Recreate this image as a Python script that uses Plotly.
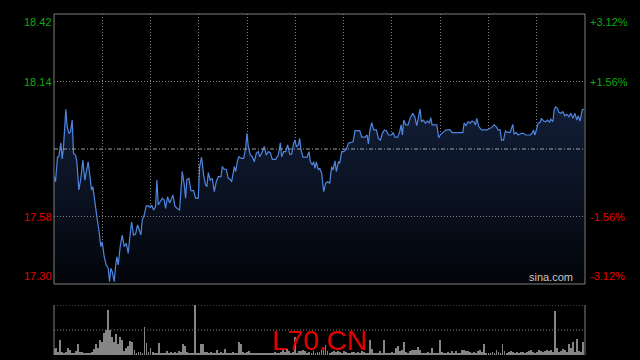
import plotly.graph_objects as go

# ---------------- data ----------------
minutes = [
    0.0, 0.75, 1.74, 2.40, 3.40, 4.06, 4.73, 5.39, 5.89, 6.55, 7.38, 8.21, 9.04, 9.70, 10.70, 11.36,
    12.35, 13.35, 14.34, 15.34, 16.33, 17.00, 17.99, 18.66, 19.32, 20.31, 21.31, 22.30, 23.30, 23.96,
    24.96, 25.96, 26.95, 27.61, 28.27, 28.94, 29.94, 30.60, 31.26, 31.93, 32.92, 33.92, 34.91, 35.91,
    36.90, 37.56, 38.56, 39.55, 40.55, 41.54, 42.54, 43.20, 43.87, 44.86, 45.86, 46.85, 47.85, 48.51,
    49.50, 50.50, 51.16, 51.83, 52.82, 53.82, 54.81, 55.47, 56.47, 57.46, 58.12, 59.12, 60.11, 61.11,
    62.44, 63.10, 63.77, 64.76, 65.42, 66.08, 67.08, 68.07, 69.40, 70.40, 71.73, 72.39, 73.38, 74.38,
    75.37, 76.03, 76.70, 77.70, 78.69, 79.69, 80.68, 81.68, 83.00, 83.67, 84.66, 85.66, 86.65, 87.65,
    88.31,
    89.64, 90.30, 91.29, 91.96, 93.28, 94.28, 95.27, 95.94, 96.60, 97.60, 98.59, 99.59, 100.58, 101.58,
    102.24, 103.23, 104.56, 105.56, 106.55, 107.55, 108.54, 110.20, 111.53, 112.52, 113.18, 114.18,
    115.17, 116.17, 117.16, 118.16, 119.15, 119.82, 120.48, 121.48, 122.14, 122.80, 123.80, 125.79,
    126.78, 127.45, 128.44, 129.10, 129.77, 130.43, 131.43, 132.09, 133.08, 134.08, 135.07, 136.07,
    137.06, 138.06, 138.72, 139.72, 140.38, 141.38, 142.04, 143.03, 144.03, 145.36, 146.35, 147.35,
    148.67, 149.67, 152.00, 152.99, 154.64, 155.64, 156.30, 156.97, 157.96, 158.96, 160.28, 161.28,
    162.27, 163.27, 164.26, 165.26, 166.25, 167.91, 168.57, 169.57, 170.90, 171.89, 172.55, 173.22,
    173.88, 174.88,
    176.03, 177.03, 178.36, 179.35, 180.35, 181.01, 182.00, 182.67, 183.67, 184.66, 185.66, 186.65,
    187.31, 187.98, 190.30, 191.29, 192.29, 193.95, 194.94, 196.93, 197.93, 203.23, 203.90, 204.89,
    205.89, 206.88, 207.88, 208.87, 209.54, 210.20, 211.19, 212.52, 215.51, 216.50, 217.50, 218.82,
    219.82, 220.81, 221.81, 222.47, 223.47, 224.46, 225.46, 226.78, 227.45, 228.11, 228.77, 229.77,
    230.76, 232.42, 233.42, 234.41, 236.73, 237.73, 238.39, 239.05, 240.05, 240.71, 241.71, 242.37,
    243.37, 244.36, 245.36, 246.35, 247.01, 248.01, 248.67, 249.34, 250.33, 250.99, 251.99, 252.99,
    253.98, 254.98, 255.97, 256.97, 257.96, 258.96, 259.95, 260.61, 261.61, 262.60, 263.60,
]

price = [
    17.745, 17.724, 17.827, 17.828, 17.886, 17.819, 17.870, 17.939, 18.025, 17.953, 17.925, 17.932,
    17.980, 17.842, 17.835, 17.807, 17.690, 17.738, 17.814, 17.731, 17.787, 17.807, 17.738, 17.690,
    17.704, 17.635, 17.579, 17.524, 17.455, 17.475, 17.413, 17.379, 17.365, 17.310, 17.365, 17.351,
    17.310, 17.372, 17.413, 17.379, 17.455, 17.503, 17.455, 17.469, 17.427, 17.483, 17.558, 17.503,
    17.507, 17.545, 17.517, 17.503, 17.565, 17.586, 17.624, 17.624, 17.618, 17.628, 17.607, 17.621,
    17.731, 17.628, 17.641, 17.656, 17.648, 17.614, 17.662, 17.637, 17.648, 17.669, 17.624, 17.614,
    17.607, 17.690, 17.766, 17.711, 17.656, 17.734, 17.738, 17.687, 17.687, 17.656, 17.656, 17.787,
    17.826, 17.752, 17.711, 17.704, 17.762, 17.731, 17.738, 17.683, 17.724, 17.745, 17.745, 17.787,
    17.776, 17.776, 17.738, 17.734, 17.724,
    17.787, 17.766, 17.814, 17.828, 17.821, 17.821, 17.863, 17.925, 17.870, 17.835, 17.828, 17.807,
    17.842, 17.849, 17.828, 17.842, 17.870, 17.835, 17.849, 17.845, 17.817, 17.817, 17.835, 17.886,
    17.828, 17.849, 17.849, 17.877, 17.839, 17.839, 17.884, 17.897, 17.870, 17.877, 17.904, 17.856,
    17.826, 17.826, 17.849, 17.807, 17.794, 17.807, 17.780, 17.807, 17.773, 17.780, 17.759, 17.683,
    17.718, 17.724, 17.718, 17.787, 17.773, 17.811, 17.766, 17.807, 17.801, 17.849, 17.849, 17.859,
    17.884, 17.888, 17.890, 17.936, 17.936, 17.909, 17.909, 17.918, 17.881, 17.932, 17.969, 17.939,
    17.939, 17.904, 17.897, 17.925, 17.939, 17.936, 17.918, 17.918, 17.928, 17.909, 17.909, 17.932,
    17.960, 17.918, 17.980, 17.960,
    17.960, 17.987, 18.008, 17.994, 17.957, 17.984, 18.026, 17.973, 17.980, 17.967, 17.976, 17.967,
    17.990, 17.960, 17.960, 17.907, 17.921, 17.932, 17.939, 17.939, 17.928, 17.928, 17.967, 17.957,
    17.973, 17.967, 17.976, 17.971, 17.960, 17.987, 17.953, 17.939, 17.939, 17.946, 17.948, 17.960,
    17.953, 17.939, 17.939, 17.897, 17.897, 17.935, 17.929, 17.929, 17.946, 17.962, 17.921, 17.929,
    17.918, 17.925, 17.925, 17.918, 17.918, 17.925, 17.939, 17.918, 17.946, 17.967, 17.971, 17.987,
    17.976, 17.973, 17.980, 17.971, 17.984, 17.973, 18.022, 18.035, 18.029, 18.012, 18.008, 18.015,
    17.998, 18.004, 17.994, 18.008, 17.987, 18.008, 17.980, 17.998, 17.976, 18.022, 18.026,
]

volume = [
    13, 15, 7, 30, 7, 5, 7, 15, 11, 5,
    5, 9, 22, 7, 6, 5, 5, 3, 5, 7,
    13, 22, 15, 31, 27, 45, 51, 90, 51, 37,
    27, 43, 23, 37, 31, 9, 15, 18, 29, 27,
    10, 5, 7, 7, 5, 57, 25, 7, 15, 7,
    3, 3, 25, 5, 5, 5, 9, 5, 7, 5,
    7, 5, 9, 7, 22, 18, 7, 5, 3, 5,
    100, 5, 3, 23, 23, 7, 7, 5, 7, 5,
    5, 10, 5, 7, 5, 13, 3, 5, 5, 7,
    3, 5, 27, 22, 7, 5, 7, 9, 3, 3,
    5, 5, 5, 3, 5, 3, 5, 3, 3, 5,
    7, 5, 5, 7, 11, 7, 13, 9, 5, 7,
    37, 5, 9, 9, 11, 9, 5, 7, 5, 9,
    5, 7, 7, 10, 11, 20, 9, 5, 7, 9,
    7, 9, 7, 5, 9, 7, 5, 3, 7, 7,
    5, 7, 5, 9, 7, 5, 5, 30, 13, 5,
    3, 5, 9, 5, 30, 5, 3, 3, 7, 5,
    15, 18, 9, 11, 27, 7, 5, 9, 11, 10,
    11, 17, 10, 5, 3, 5, 7, 3, 15, 5,
    3, 3, 31, 7, 5, 3, 7, 5, 9, 5,
    9, 3, 5, 10, 11, 9, 9, 7, 5, 7,
    5, 8, 10, 7, 22, 5, 3, 5, 7, 5,
    11, 7, 5, 22, 9, 5, 7, 9, 7, 5,
    7, 5, 7, 7, 5, 7, 9, 10, 7, 5,
    7, 10, 9, 7, 9, 10, 9, 10, 7, 89,
    15, 7, 9, 13, 10, 7, 22, 15, 27, 7,
    33, 9, 7, 27,
]
volume_minutes = list(range(len(volume)))

prev_close = 17.86
price_ticks = [18.42, 18.14, 17.58, 17.30]
price_labels = ["18.42", "18.14", "17.58", "17.30"]
pct_labels = ["+3.12%", "+1.56%", "-1.56%", "-3.12%"]
session_len = 264
grid_step = 24

assert len(minutes) == len(price), (len(minutes), len(price))

# ---------------- style ----------------
GREEN = "#12a812"
RED = "#e60000"
GRAY = "#7f7f7f"
FONT = "Liberation Sans, Arial, sans-serif"

main_bottom = (355 - 284) / 341
vol_top = (355 - 305) / 341
ymin, ymax = price_ticks[-1], price_ticks[0]

fig = go.Figure()
fig.add_trace(go.Scatter(
    x=minutes, y=price, mode="lines",
    line=dict(color="#4f86e0", width=1.2),
    fill="tozeroy",
    fillgradient=dict(type="vertical",
                      colorscale=[[0, "#020409"], [1, "#111d35"]],
                      start=ymin, stop=18.0),
    xaxis="x", yaxis="y", hoverinfo="skip", showlegend=False,
))
fig.add_trace(go.Bar(
    x=volume_minutes, y=volume, width=0.45,
    marker=dict(color="#858585", line=dict(width=0)),
    xaxis="x2", yaxis="y2", hoverinfo="skip", showlegend=False,
))

shapes = []
shapes.append(dict(type="rect", xref="paper", yref="paper", x0=0, x1=1,
                   y0=main_bottom, y1=1, line=dict(color=GRAY, width=1), layer="above"))
for v in price_ticks[1:-1]:
    shapes.append(dict(type="line", xref="paper", yref="y", x0=0, x1=1, y0=v, y1=v,
                       line=dict(color=GRAY, width=1, dash="1px,2px")))
shapes.append(dict(type="line", xref="paper", yref="y", x0=0, x1=1, y0=prev_close, y1=prev_close,
                   line=dict(color="#a0a0a0", width=1, dash="4px,2px,1px,2px")))
for v in [0, 50, 100]:
    shapes.append(dict(type="line", xref="paper", yref="y2", x0=0, x1=1, y0=v, y1=v,
                       line=dict(color=GRAY, width=1, dash="1px,2px")))
for xv in [0, 1]:
    shapes.append(dict(type="line", xref="paper", yref="y2", x0=xv, x1=xv, y0=0, y1=100,
                       line=dict(color=GRAY, width=1)))

annotations = []
colors = [GREEN, GREEN, RED, RED]
anchors = ["top", "middle", "middle", "bottom"]
for v, lab, pct, c, a in zip(price_ticks, price_labels, pct_labels, colors, anchors):
    annotations.append(dict(xref="paper", yref="y", x=0, y=v, text=lab, showarrow=False,
                            xanchor="right", yanchor=a, xshift=0,
                            font=dict(family=FONT, size=11, color=c)))
    annotations.append(dict(xref="paper", yref="y", x=1, y=v, text=pct, showarrow=False,
                            xanchor="left", yanchor=a, xshift=3,
                            font=dict(family=FONT, size=11, color=c)))
annotations.append(dict(xref="paper", yref="y", x=(575 - 54) / 531, y=ymin, text="sina.com",
                        showarrow=False, xanchor="right", yanchor="bottom", yshift=-1,
                        font=dict(family=FONT, size=11, color="#c8c8c8")))
annotations.append(dict(xref="paper", yref="paper", x=0.5, y=(355 - 340) / 341, text="L70.CN",
                        showarrow=False, xanchor="center", yanchor="middle",
                        font=dict(family=FONT, size=28, color="#e00000")))

fig.update_layout(
    width=640, height=360,
    margin=dict(l=54, r=55, t=14, b=5),
    paper_bgcolor="black", plot_bgcolor="black",
    bargap=0,
    xaxis=dict(domain=[0, 1], range=[0, session_len], anchor="y",
               showgrid=True, gridcolor=GRAY, griddash="1px,2px", gridwidth=1,
               tick0=0, dtick=grid_step, showticklabels=False, ticks="",
               zeroline=False, showline=False),
    yaxis=dict(domain=[main_bottom, 1], range=[ymin, ymax], anchor="x",
               showgrid=False, showticklabels=False, zeroline=False, showline=False),
    xaxis2=dict(domain=[0, 1], range=[0, session_len], anchor="y2", visible=False),
    yaxis2=dict(domain=[0, vol_top], range=[0, 100], anchor="x2", visible=False),
    shapes=shapes, annotations=annotations,
    showlegend=False,
)

fig.write_html("out.html")
